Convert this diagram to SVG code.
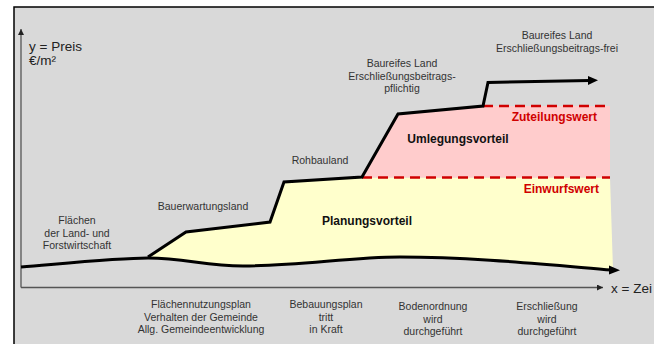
<svg xmlns="http://www.w3.org/2000/svg" width="654" height="344" viewBox="0 0 654 344">
<defs>
<style>
.lbl{font-family:"Liberation Sans",Arial,sans-serif;font-size:10.5px;fill:#333;text-anchor:middle}
.ax{font-family:"Liberation Sans",Arial,sans-serif;font-size:13.5px;fill:#222}
.bold{font-family:"Liberation Sans",Arial,sans-serif;font-size:12px;font-weight:bold;fill:#111}
.red{font-family:"Liberation Sans",Arial,sans-serif;font-size:12px;font-weight:bold;fill:#d00000;text-anchor:end}
.thick{fill:none;stroke:#000;stroke-width:3;stroke-linejoin:miter}
.dash{fill:none;stroke:#d00000;stroke-width:2.5;stroke-dasharray:10 6}
.axis{fill:none;stroke:#555;stroke-width:1.3}
</style>
<marker id="ah" viewBox="0 0 10 10" refX="10" refY="5" markerWidth="6" markerHeight="6" markerUnits="userSpaceOnUse" orient="auto"><path d="M0,0 L10,5 L0,10 Z" fill="#222"/></marker>
</defs>
<rect x="0" y="0" width="654" height="344" fill="#fff"/>
<rect x="14" y="7" width="640" height="337" fill="#d9d9d9"/>
<path d="M14,344 L14,7 L654,7" fill="none" stroke="#000" stroke-width="1.5"/>
<g id="areas">
<path id="planungsvorteil-area" d="M148,258 L186,232 L270,222 L284,182 L362,177.5 L610,177.5 L613,269.5 C540,264 470,257 400,257 C350,257 300,266 243,266 C205,266 185,258 148,258 Z" fill="#ffffcc"/>
<path id="umlegungsvorteil-area" d="M362,177.5 L398,114 L483,106 L610,106 L610,177.5 Z" fill="#ffcccc"/>
</g>
<g id="connectors">
<line class="axis" x1="21" y1="287.5" x2="21" y2="29" marker-end="url(#ah)"/>
<line class="axis" x1="21" y1="287.5" x2="603" y2="287.5" marker-end="url(#ah)"/>
<line class="dash" x1="483" y1="106" x2="610" y2="106"/>
<line class="dash" x1="362" y1="177.5" x2="610" y2="177.5"/>
<path class="thick" d="M21,267 C80,262 120,258 148,258 C185,258 205,266 243,266 C300,266 350,257 400,257 C470,257 540,264 612,270"/>
<path d="M609,265.5 L620,270.3 L609,274.5 Z" fill="#000"/>
<path class="thick" d="M148,257 L186,232 L270,222 L284,182 L362,177 L398,114 L483,106 L488,82.5 L590,80.5"/>
<path d="M588,76 L598,80.3 L588,85 Z" fill="#000"/>
</g>
<g id="axis-labels">
<text class="ax" x="29" y="51">y = Preis</text>
<text class="ax" x="29" y="65">€/m²</text>
<text class="ax" x="611" y="293">x = Zei</text>
</g>
<g id="node-flaechen"><text class="lbl" x="77" y="224">Flächen</text><text class="lbl" x="77" y="237">der Land- und</text><text class="lbl" x="77" y="249">Forstwirtschaft</text></g>
<g id="node-bauerwartungsland"><text class="lbl" x="203" y="210">Bauerwartungsland</text></g>
<g id="node-rohbauland"><text class="lbl" x="320" y="164">Rohbauland</text></g>
<g id="node-baureif-pflichtig"><text class="lbl" x="402" y="67">Baureifes Land</text><text class="lbl" x="402" y="80">Erschließungsbeitrags-</text><text class="lbl" x="402" y="92">pflichtig</text></g>
<g id="node-baureif-frei"><text class="lbl" x="557" y="39">Baureifes Land</text><text class="lbl" x="557" y="52">Erschließungsbeitrags-frei</text></g>
<g id="node-umlegungsvorteil"><text class="bold" x="458" y="143" text-anchor="middle">Umlegungsvorteil</text></g>
<g id="node-planungsvorteil"><text class="bold" x="367" y="225" text-anchor="middle">Planungsvorteil</text></g>
<g id="node-zuteilungswert"><text class="red" x="597" y="121">Zuteilungswert</text></g>
<g id="node-einwurfswert"><text class="red" x="599" y="193">Einwurfswert</text></g>
<g id="node-fnp"><text class="lbl" x="201" y="308">Flächennutzungsplan</text><text class="lbl" x="201" y="321">Verhalten  der Gemeinde</text><text class="lbl" x="201" y="333">Allg. Gemeindeentwicklung</text></g>
<g id="node-bplan"><text class="lbl" x="326" y="308">Bebauungsplan</text><text class="lbl" x="326" y="321">tritt</text><text class="lbl" x="326" y="333">in Kraft</text></g>
<g id="node-bodenordnung"><text class="lbl" x="433" y="310">Bodenordnung</text><text class="lbl" x="433" y="323">wird</text><text class="lbl" x="433" y="335">durchgeführt</text></g>
<g id="node-erschliessung"><text class="lbl" x="547" y="310">Erschließung</text><text class="lbl" x="547" y="323">wird</text><text class="lbl" x="547" y="335">durchgeführt</text></g>
</svg>
